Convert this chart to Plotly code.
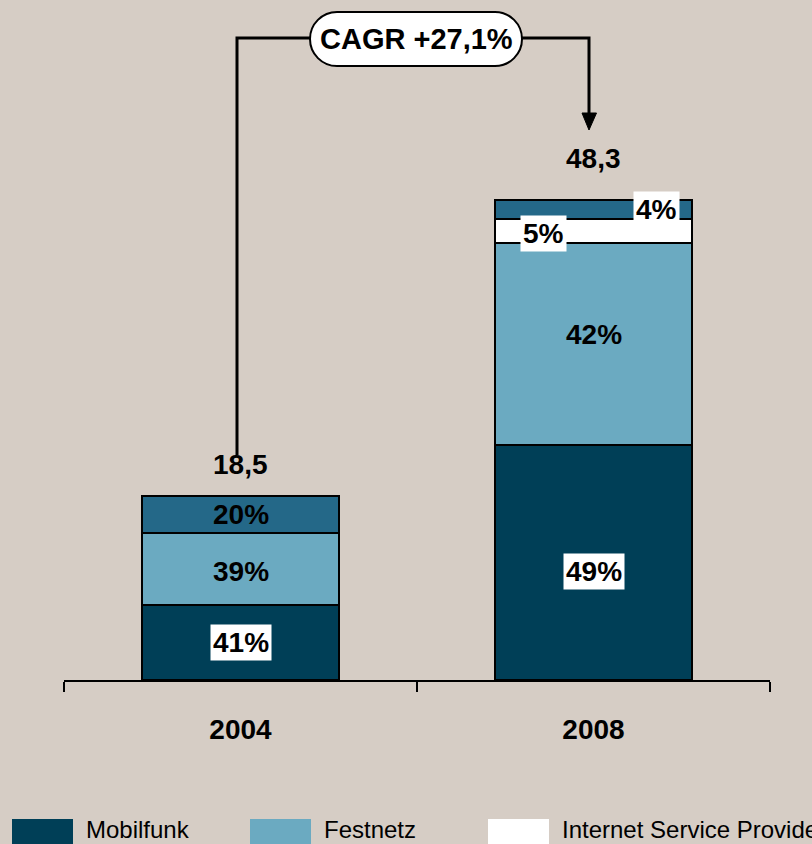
import plotly.graph_objects as go

# ---------------- data ----------------
years = ["2004", "2008"]
totals = [18.5, 48.3]
total_labels = ["18,5", "48,3"]
series_names = ["Mobilfunk", "Festnetz", "Internet Service Provider", "Sonstige"]
share_mobilfunk = [41, 49]
share_festnetz = [39, 42]
share_isp = [0, 5]
share_sonstige = [20, 4]
cagr_label = "CAGR +27,1%"

# ---------------- style ----------------
BG = "#D6CDC5"
COLORS = ["#003F57", "#6BAAC1", "#FFFFFF", "#246888"]
FONT = "Liberation Sans Narrow, Arial Narrow, Liberation Sans, Arial, sans-serif"
W, H = 812, 844
ML, MR, MT, MB = 64, 42, 0, 164
YMAX = 68.4
# small vertical nudges (px) of segment labels: (year index, series index) -> shift
LABEL_NUDGE = {(1, 0): -9, (1, 1): 9, (1, 2): -2, (0, 1): -3}

shares = [share_mobilfunk, share_festnetz, share_isp, share_sonstige]

fig = go.Figure()
for name, sh, col in zip(series_names, shares, COLORS):
    vals = [t * s / 100 if s > 0 else None for t, s in zip(totals, sh)]
    fig.add_trace(go.Bar(
        x=years, y=vals, name=name,
        marker=dict(color=col, line=dict(color="black", width=2)),
        showlegend=False,
        hovertemplate="%{x}: %{y:.1f}<extra>" + name + "</extra>",
    ))

annotations = []
# segment labels
for i, yr in enumerate(years):
    base = 0.0
    for k, sh in enumerate(shares):
        s = sh[i]
        if s <= 0:
            continue
        v = totals[i] * s / 100
        mid = base + v / 2
        small = v < 3
        white_bg = (k in (0, 2)) or small
        xshift = 0
        if small:
            xshift = -50 if k == 2 else 63
        annotations.append(dict(
            x=i, y=mid, xref="x", yref="y", text=f"{s}%", showarrow=False,
            xanchor="center", yanchor="middle",
            font=dict(family=FONT, size=28, color="black", weight="bold"),
            bgcolor="white" if white_bg else "rgba(0,0,0,0)",
            borderpad=2, xshift=xshift, yshift=LABEL_NUDGE.get((i, k), 0),
        ))
        base += v

# total labels
for i, yr in enumerate(years):
    annotations.append(dict(
        x=i, y=totals[i], xref="x", yref="y", text=total_labels[i], showarrow=False,
        xanchor="center", yanchor="bottom", yshift=14 if i == 0 else 24,
        font=dict(family=FONT, size=28, color="black", weight="bold"),
    ))

# ---- pixel -> paper helpers for decorations ----
PW = W - ML - MR
PH = H - MT - MB


def px(xp):
    return (xp - ML) / PW


def py(yp):
    return (H - MB - yp) / PH


shapes = []
# CAGR bracket lines
shapes.append(dict(type="path", xref="paper", yref="paper",
                   path=f"M {px(237)},{py(455)} L {px(237)},{py(38)} L {px(310)},{py(38)}",
                   line=dict(color="black", width=3)))
shapes.append(dict(type="path", xref="paper", yref="paper",
                   path=f"M {px(521)},{py(38)} L {px(589)},{py(38)} L {px(589)},{py(116)}",
                   line=dict(color="black", width=3)))
shapes.append(dict(type="path", xref="paper", yref="paper",
                   path=f"M {px(582)},{py(113)} L {px(596.5)},{py(113)} L {px(589)},{py(130)} Z",
                   fillcolor="black", line=dict(color="black", width=1)))
# pill
L, R, T, B = 310, 522, 12, 66
r = (B - T) / 2
cy = (T + B) / 2
k = 0.5523 * r
pts = [
    ("M", [(L + r, T)]),
    ("L", [(R - r, T)]),
    ("C", [(R - r + k, T), (R, cy - k), (R, cy)]),
    ("C", [(R, cy + k), (R - r + k, B), (R - r, B)]),
    ("L", [(L + r, B)]),
    ("C", [(L + r - k, B), (L, cy + k), (L, cy)]),
    ("C", [(L, cy - k), (L + r - k, T), (L + r, T)]),
]
path = " ".join(cmd + " " + " ".join(f"{px(a)},{py(b)}" for a, b in p) for cmd, p in pts) + " Z"
shapes.append(dict(type="path", xref="paper", yref="paper", path=path,
                   fillcolor="white", line=dict(color="black", width=2)))
annotations.append(dict(x=px((L + R) / 2), y=py(cy), xref="paper", yref="paper",
                        xanchor="center", yanchor="middle",
                        text=cagr_label, showarrow=False,
                        font=dict(family=FONT, size=29, color="black", weight="bold")))

# custom legend (only the three items visible in the frame)
for j, name in enumerate(series_names[:3]):
    x0 = 12 + 238 * j
    shapes.append(dict(type="rect", xref="paper", yref="paper",
                       x0=px(x0), x1=px(x0 + 61), y0=py(819), y1=py(850),
                       fillcolor=COLORS[j], line=dict(width=0)))
    annotations.append(dict(x=px(x0 + 72), y=py(829), xref="paper", yref="paper",
                            xanchor="left", yanchor="middle", text=name, showarrow=False,
                            font=dict(family=FONT, size=24, color="black")))

fig.update_layout(
    width=W, height=H,
    barmode="stack", bargap=0.44,
    paper_bgcolor=BG, plot_bgcolor=BG,
    margin=dict(l=ML, r=MR, t=MT, b=MB),
    shapes=shapes, annotations=annotations,
    xaxis=dict(type="category", range=[-0.5, 1.5], showline=True, linecolor="black",
               linewidth=1.5, ticks="outside", tickson="boundaries", ticklen=10,
               tickwidth=1.5, tickcolor="black", showgrid=False,
               tickfont=dict(family=FONT, size=28, color="black", weight="bold"),
               ticklabelstandoff=24),
    yaxis=dict(range=[0, YMAX], visible=False, showgrid=False, zeroline=False),
    showlegend=False,
)

fig.write_html("out.html", config={"displayModeBar": False},
               post_script="document.body.style.margin='0';")
